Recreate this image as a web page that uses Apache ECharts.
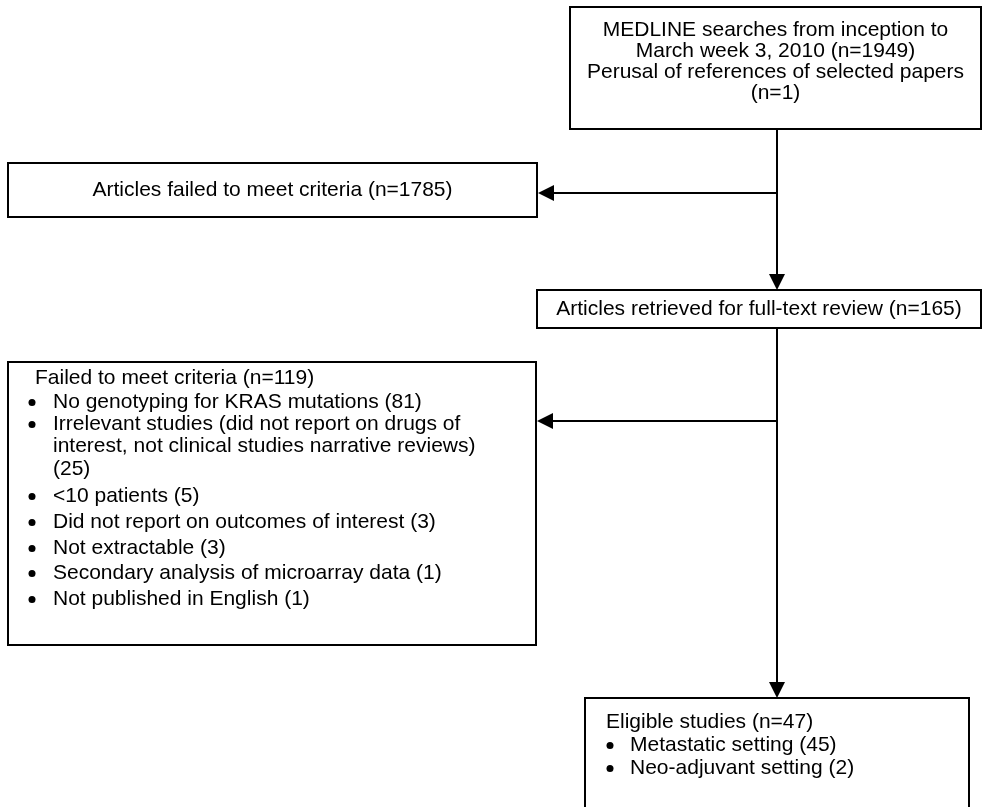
<!DOCTYPE html>
<html>
<head>
<meta charset="utf-8">
<script src="https://cdn.jsdelivr.net/npm/echarts@6/dist/echarts.min.js"></script>
<style>
html,body{margin:0;padding:0;background:#ffffff;}
#chart{width:984px;height:807px;}
</style>
</head>
<body>
<div id="chart"></div>
<script>
// ---------------- data ----------------
const searchCount = 1949;
const referenceCount = 1;
const failedScreenCount = 1785;
const retrievedCount = 165;
const excludedTotal = 119;
const exclusionReasons = [
  'No genotyping for KRAS mutations',
  'Irrelevant studies (did not report on drugs of\ninterest, not clinical studies narrative reviews)\n',
  '<10 patients',
  'Did not report on outcomes of interest',
  'Not extractable',
  'Secondary analysis of microarray data',
  'Not published in English'
];
const exclusionCounts = [81, 25, 5, 3, 3, 1, 1];
const eligibleTotal = 47;
const settingNames = ['Metastatic setting', 'Neo-adjuvant setting'];
const settingCounts = [45, 2];

// ---------------- texts built from data ----------------
const box1Text = [
  'MEDLINE searches from inception to',
  'March week 3, 2010 (n=' + searchCount + ')',
  'Perusal of references of selected papers',
  '(n=' + referenceCount + ')'
];
const box2Text = ['Articles failed to meet criteria (n=' + failedScreenCount + ')'];
const box3Text = ['Articles retrieved for full-text review (n=' + retrievedCount + ')'];
const box4Title = 'Failed to meet criteria (n=' + excludedTotal + ')';
const box4Items = exclusionReasons.map((r, i) => (r.endsWith('\n') ? r : r + ' ') + '(' + exclusionCounts[i] + ')');
const box5Title = 'Eligible studies (n=' + eligibleTotal + ')';
const box5Items = settingNames.map((r, i) => r + ' (' + settingCounts[i] + ')');

// ---------------- layout (pixel-space axis units) ----------------
const FONT = '"Liberation Sans", Arial, sans-serif';
const FS = 21;
const layout = [
  { rect: [570, 7, 981, 129], mode: 'center', cx: 775.5, ys: [30, 51, 72, 93], lines: box1Text },
  { rect: [8, 163, 537, 217], mode: 'center', cx: 272.5, ys: [190], lines: box2Text },
  { rect: [537, 290, 981, 328], mode: 'center', cx: 759, ys: [309], lines: box3Text },
  { rect: [8, 362, 536, 645], mode: 'list', titleX: 35, titleY: 378, dotX: 32, textX: 53,
    itemYs: [402, 424, 496, 522, 548, 573, 599], lineGap: 22.5, title: box4Title, items: box4Items },
  { rect: [585, 698, 969, 822], mode: 'list', titleX: 606, titleY: 722, dotX: 610, textX: 630,
    itemYs: [745, 768], lineGap: 22.5, title: box5Title, items: box5Items }
];
const connectors = [
  { pts: [[777, 129], [777, 290]], arrow: true },
  { pts: [[777, 193], [538, 193]], arrow: true },
  { pts: [[777, 328], [777, 698]], arrow: true },
  { pts: [[777, 421], [537, 421]], arrow: true }
];

function txt(x, y, s, align) {
  return {
    type: 'text',
    style: { x: x, y: y, text: s, fill: '#000', fontSize: FS, fontFamily: FONT,
      align: align, verticalAlign: 'middle', lineHeight: 22.5 }
  };
}

const chart = echarts.init(document.getElementById('chart'), null, { renderer: 'canvas' });
chart.setOption({
  backgroundColor: '#ffffff',
  animation: false,
  grid: { left: 0, right: 0, top: 0, bottom: 0 },
  xAxis: { type: 'value', min: 0, max: 984, show: false },
  yAxis: { type: 'value', min: 0, max: 807, inverse: true, show: false },
  series: [
    {
      type: 'custom',
      coordinateSystem: 'cartesian2d',
      silent: true,
      data: layout.map((b, i) => [b.rect[0], b.rect[1], b.rect[2], b.rect[3], i]),
      renderItem: function (params, api) {
        const b = layout[params.dataIndex];
        const p0 = api.coord([api.value(0), api.value(1)]);
        const p1 = api.coord([api.value(2), api.value(3)]);
        const children = [{
          type: 'rect',
          shape: { x: p0[0], y: p0[1], width: p1[0] - p0[0], height: p1[1] - p0[1] },
          style: { fill: '#fff', stroke: '#000', lineWidth: 2 }
        }];
        if (b.mode === 'center') {
          b.lines.forEach((s, k) => {
            const p = api.coord([b.cx, b.ys[k]]);
            children.push(txt(p[0], p[1], s, 'center'));
          });
        } else {
          const pt = api.coord([b.titleX, b.titleY]);
          children.push(txt(pt[0], pt[1], b.title, 'left'));
          b.items.forEach((s, k) => {
            const lines = s.split('\n');
            lines.forEach((ln, j) => {
              const p = api.coord([b.textX, b.itemYs[k] + j * b.lineGap]);
              children.push(txt(p[0], p[1], ln, 'left'));
            });
            const d = api.coord([b.dotX, b.itemYs[k]]);
            children.push({ type: 'circle', shape: { cx: d[0], cy: d[1] + 0.5, r: 3.5 }, style: { fill: '#000' } });
          });
        }
        return { type: 'group', children: children };
      }
    },
    {
      type: 'custom',
      coordinateSystem: 'cartesian2d',
      silent: true,
      data: connectors.map((c, i) => [c.pts[0][0], c.pts[0][1], c.pts[1][0], c.pts[1][1], i]),
      renderItem: function (params, api) {
        const a = api.coord([api.value(0), api.value(1)]);
        const b = api.coord([api.value(2), api.value(3)]);
        const dx = b[0] - a[0], dy = b[1] - a[1];
        const len = Math.sqrt(dx * dx + dy * dy);
        const ux = dx / len, uy = dy / len;
        const L = 16, W = 8;
        const base = [b[0] - ux * L, b[1] - uy * L];
        return {
          type: 'group',
          children: [
            { type: 'line', shape: { x1: a[0], y1: a[1], x2: base[0], y2: base[1] },
              style: { stroke: '#000', lineWidth: 2 } },
            { type: 'polygon', shape: { points: [[b[0], b[1]], [base[0] - uy * W, base[1] + ux * W], [base[0] + uy * W, base[1] - ux * W]] },
              style: { fill: '#000' } }
          ]
        };
      }
    }
  ]
});
</script>
</body>
</html>
